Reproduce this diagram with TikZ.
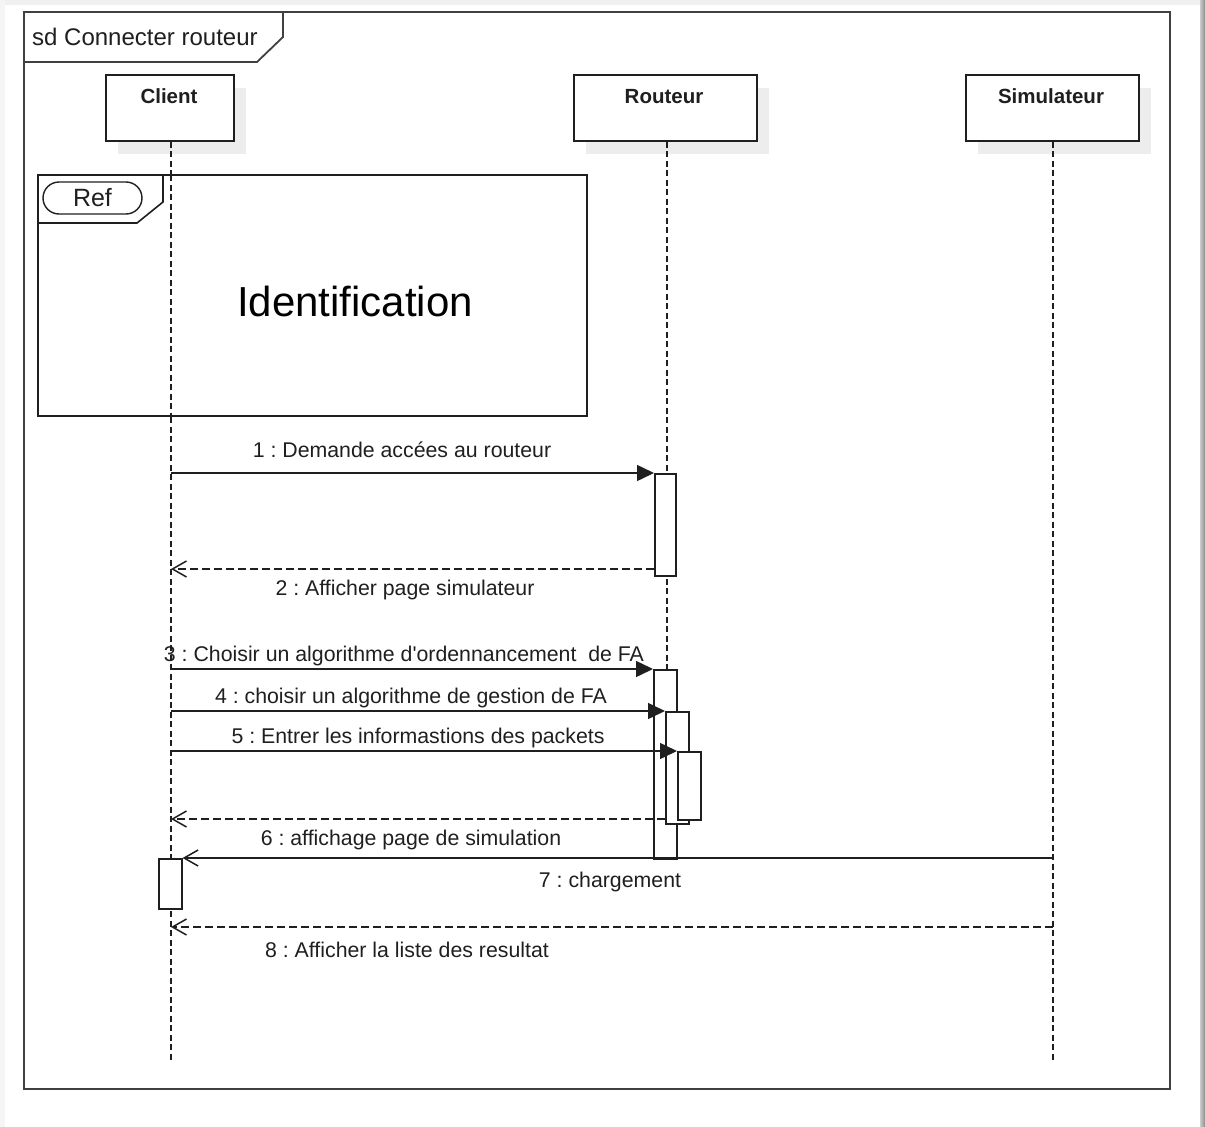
\documentclass[tikz,border=0pt]{standalone}
\usepackage{fontspec}
\setmainfont{Liberation Sans}
\usetikzlibrary{arrows.meta,shadows,calc}
\frenchspacing
\begin{document}
\begin{tikzpicture}[x=1pt,y=-1pt,
  ink/.style={draw=black!88, line width=1.6pt},
  frameline/.style={draw=black!75, line width=2.4pt},
  header/.style={ink, fill=white, minimum width=#1, minimum height=66pt,
    inner sep=0pt, anchor=north west,
    drop shadow={shadow xshift=12pt, shadow yshift=-13pt, fill=black!7, opacity=1}},
  hdrtext/.style={font=\fontsize{20.5}{24}\selectfont\bfseries, text=black!88,
    anchor=base, inner sep=0pt},
  lifeline/.style={draw=black!88, line width=1.3pt, dash pattern=on 6pt off 3.5pt},
  activation/.style={ink, fill=white, inner sep=0pt, anchor=north west,
    minimum width=#1},
  msg/.style={draw=black!88, line width=1.5pt},
  call/.style={msg, -{Triangle[length=17pt,width=16pt]}},
  reply/.style={msg, dash pattern=on 8pt off 4pt,
    -{Straight Barb[length=14pt,width=16pt]}},
  signal/.style={msg, -{Straight Barb[length=14pt,width=16pt]}},
  lbl/.style={font=\fontsize{21.3}{25}\selectfont, text=black!88,
    anchor=base, inner sep=0pt}
]
\useasboundingbox (0,0) rectangle (1205,1127);

% page edges
\fill[black!6] (0,0) rectangle (1205,5);
\fill[black!4] (0,0) rectangle (5,1127);
\shade[left color=black!20, right color=black!45] (1200,0) rectangle (1205,1127);

% sequence diagram frame
\draw[frameline] (24,12) rectangle (1170,1089);
\draw[frameline, line width=1.8pt] (24,12) -- (283,12) -- (283,37) -- (257,62) -- (24,62);
\node[anchor=base west, inner sep=0pt, font=\fontsize{24}{28}\selectfont, text=black!88]
  (title) at (32,45) {sd Connecter routeur};

% lifeline heads
\node[header=128pt] (client) at (105,74) {};
\node[header=183pt] (routeur) at (573,74) {};
\node[header=173pt] (simulateur) at (965,74) {};
\node[hdrtext] (clientLbl) at (169,103) {Client};
\node[hdrtext] (routeurLbl) at (664,103) {Routeur};
\node[hdrtext] (simulateurLbl) at (1051,103) {Simulateur};

% lifeline ends
\coordinate (clientEnd) at (171,1062);
\coordinate (routeurEnd) at (667,858);
\coordinate (simEnd) at (1053,1062);

\draw[lifeline] (client.south -| clientEnd) -- (clientEnd);
\draw[lifeline] (routeur.south -| routeurEnd) -- (routeurEnd);
\draw[lifeline] (simulateur.south -| simEnd) -- (simEnd);

% interaction use: Identification
\draw[ink, fill=white] (38,175) rectangle (587,416);
\draw[ink] (38,175) -- (163,175) -- (163,202) -- (137,223) -- (38,223);
\draw[lifeline] (171,175) -- (171,416);
\node[ink, line width=1.4pt, rounded corners=16pt, minimum width=99pt, minimum height=32pt,
  inner sep=0pt, font=\fontsize{25}{28}\selectfont, text=black!88] (ref) at (92.5,198) {Ref};
\node[anchor=base, inner sep=0pt, font=\fontsize{42}{48}\selectfont, text=black]
  (ident) at (355,316) {Identification};

% activation bars
\node[activation=21pt, minimum height=102pt] (a1) at (654,473) {};
\node[activation=23pt, minimum height=189pt] (a3) at (653,669) {};
\node[activation=23pt, minimum height=112pt] (a4) at (665,711) {};
\node[activation=23pt, minimum height=68pt] (a5) at (677,751) {};
\node[activation=23pt, minimum height=50pt] (ac) at (158,858) {};

% message levels
\coordinate (m2) at (0,569);
\coordinate (m6) at (0,819);
\coordinate (m8) at (0,927);

% messages
\draw[call] (clientEnd |- a1.north) -- (a1.north west);
\node[lbl] (l1) at (402,457) {1 : Demande accées au routeur};

\draw[reply] (a1.west |- m2) -- (clientEnd |- m2);
\node[lbl] (l2) at (405,595) {2 : Afficher page simulateur};

\draw[call] (clientEnd |- a3.north) -- (a3.north west);
\node[lbl] (l3) at (404,661) {3 : Choisir un algorithme d\textquotesingle ordennancement\ \ de FA};

\draw[call] (clientEnd |- a4.north) -- (a4.north west);
\node[lbl] (l4) at (411,703) {4 : choisir un algorithme de gestion de FA};

\draw[call] (clientEnd |- a5.north) -- (a5.north west);
\node[lbl] (l5) at (418,743) {5 : Entrer les informastions des packets};

\draw[reply] (a4.west |- m6) -- (clientEnd |- m6);
\node[lbl] (l6) at (411,845) {6 : affichage page de simulation};

\draw[signal] (simEnd |- ac.north) -- (ac.north east);
\node[lbl] (l7) at (610,887) {7 : chargement};

\draw[reply] (simEnd |- m8) -- (clientEnd |- m8);
\node[lbl] (l8) at (407,957) {8 : Afficher la liste des resultat};
\end{tikzpicture}
\end{document}
